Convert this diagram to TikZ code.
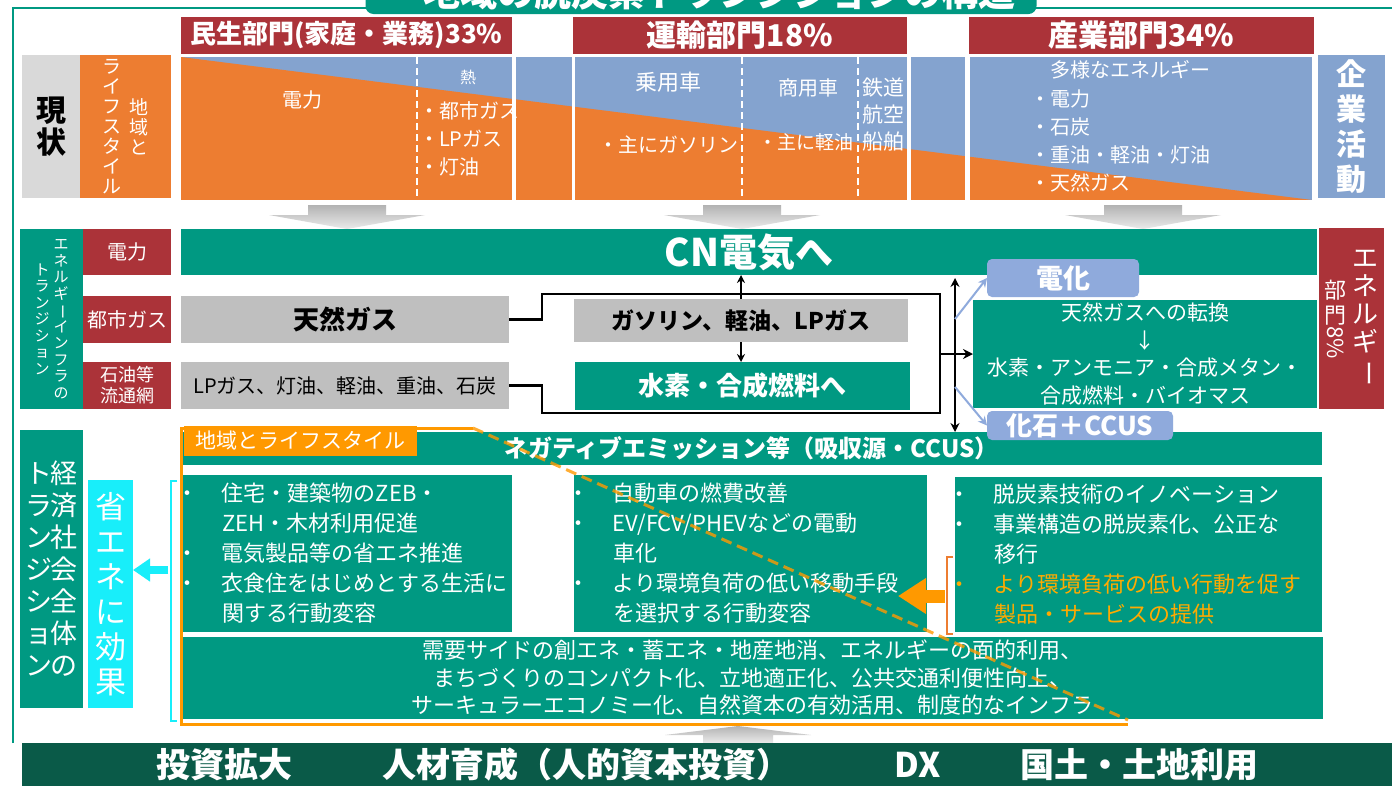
\documentclass[tikz,border=0pt]{standalone}
\usepackage{fontspec}
\setmainfont{Noto Sans CJK JP}
\usepackage{tikz}
\usetikzlibrary{arrows.meta,positioning,calc}
\definecolor{myteal}{RGB}{0,153,130}
\definecolor{myred}{RGB}{171,51,57}
\definecolor{myorange}{RGB}{237,125,49}
\definecolor{myblue}{RGB}{132,163,207}
\definecolor{mylblue}{RGB}{143,170,220}
\definecolor{mygray}{RGB}{191,191,191}
\definecolor{mylgray}{RGB}{217,217,217}
\definecolor{mylabel}{RGB}{255,153,0}
\definecolor{mycyan}{RGB}{24,238,250}
\definecolor{mydark}{RGB}{10,90,72}
\definecolor{myyellow}{RGB}{255,170,0}
\newcommand{\fsz}[2]{\fontsize{#1pt}{#2pt}\selectfont}
\newcommand{\vcol}[1]{\parbox{1em}{\centering #1}}
\newcommand{\vbar}{\rotatebox[origin=c]{-90}{ー}}
\newcommand{\bul}{\makebox[46pt][l]{・}}
\newcommand{\ind}{\hspace*{46pt}}

\begin{document}
\begin{tikzpicture}[x=1pt,y=-1pt,
  every node/.style={inner sep=0pt,outer sep=0pt},
  redbox/.style={fill=myred,text=white},
  tealbox/.style={fill=myteal,text=white},
  graybox/.style={fill=mygray,text=black},
  bluetag/.style={fill=mylblue,text=white,rounded corners=5pt},
  wtxt/.style={text=white,font=\fsz{20}{28}},
  wlist/.style={text=white,font=\fsz{22}{30},align=left},
  btxt/.style={text=white,font=\bfseries\fsz{34}{36}},
  blk/.style={black,line width=2.5pt},
  grayarr/.style={top color=black!30,bottom color=black!8},
  oframe/.style={mylabel,line width=3pt}]
  \useasboundingbox (0,0) rectangle (1392,785);
  \clip (0,0) rectangle (1392,785);
  \fill[white] (0,0) rectangle (1392,785);

  % frame and title
  \draw[myteal,line width=2pt] (13,743) -- (13,7.5) -- (1392,7.5);
  \node[tealbox,rounded corners=8pt,minimum width=671,minimum height=44,
        font=\bfseries\fsz{37}{40}] (title) at (701,-8)
        {・地域の脱炭素トランジションの構造};

  \node[redbox,minimum width=331,minimum height=37,font=\bfseries\fsz{26}{28}]
    (minsei) at (346.5,35.5) {民生部門(家庭・業務)33\%};
  \node[redbox,minimum width=334,minimum height=37,font=\bfseries\fsz{30}{32}]
    (unyu) at (740,35.5) {運輸部門18\%};
  \node[redbox,minimum width=345,minimum height=37,font=\bfseries\fsz{30}{32}]
    (sangyo) at (1141.5,35.5) {産業部門34\%};

  % genjo
  \node[fill=mylgray,minimum width=58,minimum height=143,font=\bfseries\fsz{30}{32}]
    (genjo) at (51,126.5) {\vcol{現\\状}};
  \node[fill=myorange,text=white,minimum width=91,minimum height=143,font=\fsz{19}{20}]
    (life) at (125.5,126.5)
    {\vcol{ラ\\イ\\フ\\ス\\タ\\イ\\ル}\hspace{8pt}\vcol{地\\域\\と}};

  \foreach \xa/\xb in {181/512,516/572,575/907,911/965,970/1312}
    \fill[myblue] (\xa,57) rectangle (\xb,200);
  \begin{scope}
    \clip (181,57) -- (1312,200) -- (181,200) -- cycle;
    \foreach \xa/\xb in {181/512,516/572,575/907,911/965,970/1312}
      \fill[myorange] (\xa,57) rectangle (\xb,200);
  \end{scope}
  \foreach \x in {417,742,858}
    \draw[white,line width=2pt,dash pattern=on 7pt off 4pt] (\x,57) -- (\x,200);

  \node[wtxt] (tDen) at (302,100) {電力};
  \node[wtxt,font=\fsz{16}{18}] (tNetsu) at (468,77) {熱};
  \node[wtxt,align=left,anchor=west] (tNetsuList) at (419,139)
    {・都市ガス\\・LPガス\\・灯油};
  \node[wtxt,font=\fsz{22}{24}] (tJoyo) at (668,82) {乗用車};
  \node[wtxt] (tGaso) at (668,145) {・主にガソリン};
  \node[wtxt] (tShoyo) at (808,88) {商用車};
  \node[wtxt,font=\fsz{19}{22}] (tKeiyu) at (806,142) {・主に軽油};
  \node[wtxt,align=center,font=\fsz{21}{27}] (tTetsu) at (883,115) {鉄道\\航空\\船舶};
  \node[wtxt] (tTayo) at (1130,70) {多様なエネルギー};
  \node[wtxt,align=left,anchor=west] (tTayoList) at (1030,140.5)
    {・電力\\・石炭\\・重油・軽油・灯油\\・天然ガス};

  \node[fill=myblue,text=white,minimum width=67,minimum height=143,
        font=\bfseries\fsz{30}{35}] (kigyo) at (1351.5,126.5) {\vcol{企\\業\\活\\動}};

  \foreach \cx in {347,742,1143}
    \shade[grayarr] (\cx-39,205) -- (\cx+39,205) -- (\cx+39,215) -- (\cx+78,215)
      -- (\cx,229) -- (\cx-78,215) -- (\cx-39,215) -- cycle;

  % energy infra
  \node[tealbox,minimum width=63,minimum height=180,font=\fsz{15}{16.5}]
    (eneTr) at (51.5,319)
    {\vcol{ト\\ラ\\ン\\ジ\\シ\\ョ\\ン}\hspace{4pt}\vcol{エ\\ネ\\ル\\ギ\\\vbar\\イ\\ン\\フ\\ラ\\の}};
  \node[redbox,minimum width=88,minimum height=46,font=\fsz{20}{22}] (rDen) at (127,252) {電力};
  \node[redbox,minimum width=88,minimum height=47,font=\fsz{20}{22}] (rToshi) at (127,319.5) {都市ガス};
  \node[redbox,minimum width=88,minimum height=47,font=\fsz{18}{21},align=center]
    (rSekiyu) at (127,385.5) {石油等\\流通網};

  \node[tealbox,minimum width=1136,minimum height=46,font=\bfseries\fsz{38}{40}]
    (cn) at (749,252) {CN電気へ};
  \node[graybox,minimum width=328,minimum height=47,font=\bfseries\fsz{26}{28}]
    (tennen) at (345,319.5) {天然ガス};
  \node[graybox,minimum width=328,minimum height=47,font=\fsz{20}{22}]
    (lpgas) at (345,385.5) {LPガス、灯油、軽油、重油、石炭};
  \node[graybox,minimum width=334,minimum height=43,font=\bfseries\fsz{23}{25}]
    (gasoline) at (741,320.5) {ガソリン、軽油、LPガス};
  \node[tealbox,minimum width=335,minimum height=48,font=\bfseries\fsz{26}{28}]
    (suiso) at (742.5,386) {水素・合成燃料へ};
  \node[tealbox,minimum width=344,minimum height=108,font=\fsz{21}{27.5},align=center]
    (tenkan) at (1145,354)
    {天然ガスへの転換\\↓\\水素・アンモニア・合成メタン・\\合成燃料・バイオマス};
  \node[bluetag,minimum width=152,minimum height=38,font=\bfseries\fsz{27}{29}]
    (denka) at (1063,278) {電化};
  \node[redbox,minimum width=65,minimum height=181] (eneB) at (1351.5,318.5)
    {\fsz{22}{25}\vcol{部\\門\\\rotatebox[origin=c]{-90}{8\%}}\hspace{6pt}%
     \fsz{26}{28}\vcol{エ\\ネ\\ル\\ギ\\\vbar}};

  \coordinate (loopNW) at (542,294);
  \coordinate (loopNE) at (940,294);
  \coordinate (loopSE) at (940,413);
  \coordinate (loopSW) at (542,413);
  \draw[blk,line join=miter] (tennen.east) -| (loopNW) -- (loopNE) -- (loopSE)
    -- (loopSW) |- (lpgas.east);
  \draw[blk,-{Stealth[length=10pt,width=10pt]}] (loopNE |- tenkan.west) -- (tenkan.west);
  \draw[blk,line width=2pt,-{Stealth[length=8pt,width=8pt]}]
    (gasoline.north) -- (gasoline.north |- cn.south);
  \draw[blk,line width=2pt,-{Stealth[length=8pt,width=8pt]}]
    (gasoline.south) -- (gasoline.south |- suiso.north);
  \coordinate (vTop) at (955,278);
  \coordinate (vBot) at (955,432);
  \draw[blk,line width=2pt,{Stealth[length=9pt,width=9pt]}-{Stealth[length=9pt,width=9pt]}]
    (vTop) -- (vBot);
  \coordinate (bl1) at (955,319);
  \coordinate (bl2) at (955,387);
  \draw[mylblue,line width=2pt,-{Stealth[length=9pt,width=9pt]}] (bl1) -- (denka.west);

  % society transition
  \node[tealbox,minimum width=63,minimum height=278,font=\fsz{27}{32}]
    (keizai) at (51.5,569)
    {\vcol{ト\\ラ\\ン\\ジ\\シ\\ョ\\ン}\hspace{-2pt}\vcol{経\\済\\社\\会\\全\\体\\の}};
  \node[fill=mycyan,text=white,minimum width=45,minimum height=228,font=\fsz{31}{35}]
    (shoene) at (110.5,594) {\vcol{省\\エ\\ネ\\に\\効\\果}};
  \draw[mycyan,line width=1.2pt] (177,481) -- (171,481) -- (171,721) -- (177,721);
  \coordinate (cBrk) at (168,570);
  \draw[mycyan,line width=8pt,-{Triangle[length=17pt,width=22pt]}]
    (cBrk) -- (shoene.east |- cBrk);

  \node[tealbox,minimum width=1141,minimum height=33,font=\bfseries\fsz{24}{26}]
    (nega) at (751.5,448.5) {ネガティブエミッション等（吸収源・CCUS）};

  \node[tealbox,minimum width=329,minimum height=157] (boxL) at (347.5,553.5) {};
  \node[tealbox,minimum width=353,minimum height=157] (boxM) at (750.5,553.5) {};
  \node[tealbox,minimum width=367,minimum height=155] (boxR) at (1138.5,554.5) {};
  \node[wlist,right=-7pt of boxL.west] (txtL)
    {\bul 住宅・建築物のZEB・\\\ind ZEH・木材利用促進\\\bul 電気製品等の省エネ推進\\
     \bul 衣食住をはじめとする生活に\\\ind 関する行動変容};
  \node[wlist,right=-7pt of boxM.west] (txtM)
    {\bul 自動車の燃費改善\\\bul EV/FCV/PHEVなどの電動\\\ind 車化\\
     \bul より環境負荷の低い移動手段\\\ind を選択する行動変容};
  \node[wlist,right=-7pt of boxR.west] (txtR)
    {\bul 脱炭素技術のイノベーション\\\bul 事業構造の脱炭素化、公正な\\\ind 移行\\
     \textcolor{myyellow}{\bul より環境負荷の低い行動を促す}\\
     \ind\textcolor{myyellow}{製品・サービスの提供}};

  \node[tealbox,minimum width=1141,minimum height=82,font=\fsz{22}{27.5},align=center]
    (juyo) at (752.5,678)
    {需要サイドの創エネ・蓄エネ・地産地消、エネルギーの面的利用、\\
     まちづくりのコンパクト化、立地適正化、公共交通利便性向上、\\
     サーキュラーエコノミー化、自然資本の有効活用、制度的なインフラ};

  \draw[oframe] (473,428) -- (181,428) -- (181,724) -- (1128,724);
  \node[fill=mylabel,text=white,minimum width=233,minimum height=30,font=\fsz{21}{23}]
    (lifeLab) at (300.5,441) {地域とライフスタイル};

  \coordinate (oBrk) at (945,596);
  \coordinate (oTip) at (898,596);
  \draw[mylabel,line width=13pt,-{Triangle[length=28pt,width=34pt]}] (oBrk) -- (oTip);
  \draw[myorange,line width=1.2pt] (953,557) -- (947,557) -- (947,634) -- (953,634);

  \node[bluetag,minimum width=186,minimum height=29,font=\bfseries\fsz{26}{28}]
    (kaseki) at (1080,425.5) {化石＋CCUS};
  \draw[mylblue,line width=2pt,-{Stealth[length=9pt,width=9pt]}] (bl2) -- (kaseki.west);

  \draw[oframe,opacity=0.8,dash pattern=on 11pt off 6pt] (473,428) -- (1128,720);

  % base
  \shade[grayarr] (703,743) -- (773,743) -- (773,735) -- (811,735) -- (738,726)
    -- (665,735) -- (703,735) -- cycle;
  \node[fill=mydark,minimum width=1370,minimum height=47] (base) at (707,766.5) {};
  \node[btxt] (bInv) at (224,765) {投資拡大};
  \node[btxt] (bHr) at (586,765) {人材育成（人的資本投資）};
  \node[btxt] (bDx) at (918,765) {DX};
  \node[btxt] (bLand) at (1139,765) {国土・土地利用};
\end{tikzpicture}
\end{document}
